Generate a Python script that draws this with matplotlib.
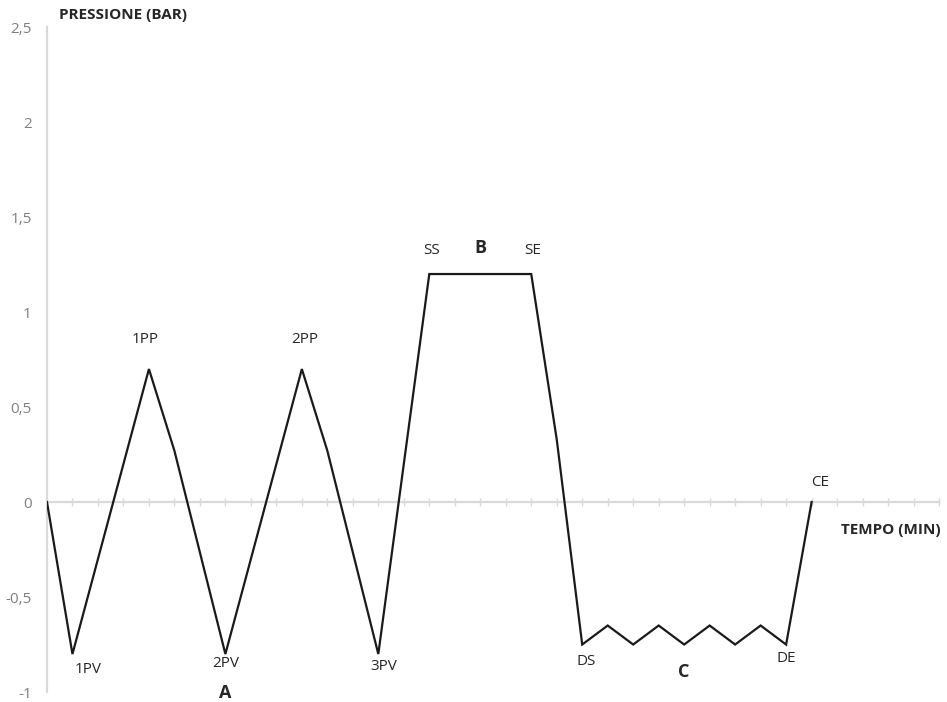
import matplotlib
matplotlib.use("Agg")
import matplotlib.pyplot as plt
from matplotlib.ticker import MultipleLocator, FuncFormatter

# pressure cycle (time in minutes, pressure in bar)
tempo = [0, 1, 4, 5, 7, 10, 11, 13, 15, 19, 20, 21, 22, 23, 24, 25, 26, 27, 28, 29, 30]
pressione = [0, -0.8, 0.7, 0.27, -0.8, 0.7, 0.27, -0.8, 1.2, 1.2, 0.33, -0.75,
             -0.65, -0.75, -0.65, -0.75, -0.65, -0.75, -0.65, -0.75, 0]

# point labels: name, index into the data
punti = ["1PV", "1PP", "2PV", "2PP", "3PV", "SS", "SE", "DS", "DE", "CE"]
indici = [1, 2, 4, 5, 7, 8, 9, 11, 19, 20]

# phase labels: name, first index, last index
fasi = ["A", "B", "C"]
fasi_da = [1, 8, 11]
fasi_a = [7, 9, 19]

plt.rcParams['font.family'] = ['Open Sans', 'DejaVu Sans']

fig = plt.figure(figsize=(9.47, 7.02), dpi=100, facecolor='white')
ax = fig.add_axes([0.0496, 0.0142, 0.942, 0.9473])
ax.set_xlim(0, 35)
ax.set_ylim(-1, 2.5)

ax.plot(tempo, pressione, color='#1a1a1a', lw=1.6, solid_joinstyle='miter', zorder=3)

# axes look (excel style)
for s in ['top', 'right']:
    ax.spines[s].set_visible(False)
ax.spines['left'].set_color('#d9d9d9')
ax.spines['left'].set_linewidth(1.6)
ax.spines['bottom'].set_position(('data', 0))
ax.spines['bottom'].set_color('#d9d9d9')
ax.spines['bottom'].set_linewidth(1.6)

ax.xaxis.set_major_locator(MultipleLocator(1))
ax.tick_params(axis='x', direction='inout', length=6, width=1, color='#d9d9d9',
               labelbottom=False)
ax.yaxis.set_major_locator(MultipleLocator(0.5))
ax.yaxis.set_major_formatter(FuncFormatter(lambda v, p: ('%g' % v).replace('.', ',')))
ax.tick_params(axis='y', length=0, pad=11, labelsize=11, labelcolor='#7f7f7f')

# point labels
offs = {"1PV": (11, -11), "1PP": (-3, 21), "2PV": (0, -7), "2PP": (2, 21),
        "3PV": (4, -9), "SS": (2, 17), "SE": (1, 17), "DS": (3, -12),
        "DE": (0, -10), "CE": (6, 14)}
for nome, i in zip(punti, indici):
    ax.annotate(nome, (tempo[i], pressione[i]), xytext=offs[nome],
                textcoords='offset points', ha='center', va='center',
                fontsize=11, color='#262626')

# phase labels, centred on their phase
fasi_dy = {"A": -28, "B": 19, "C": -20}
for nome, a, b in zip(fasi, fasi_da, fasi_a):
    xm = (tempo[a] + tempo[b]) / 2
    ax.annotate(nome, (xm, pressione[a]), xytext=(0, fasi_dy[nome]),
                textcoords='offset points', ha='center', va='center',
                fontsize=13, fontweight='bold', color='#262626')

# axis titles
fig.text(59 / 947, 1 - 15 / 702, "PRESSIONE (BAR)", ha='left', va='center',
         fontsize=11, fontweight='bold', color='#262626')
fig.text(941 / 947, 1 - 530 / 702, "TEMPO (MIN)", ha='right', va='center',
         fontsize=11, fontweight='bold', color='#262626')

fig.savefig("out.png", dpi=100, facecolor='white')
